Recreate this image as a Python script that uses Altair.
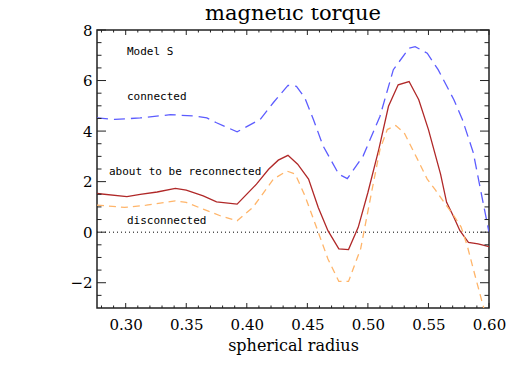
import altair as alt
import pandas as pd

# ---- data ----
conn_x = [0.2763, 0.291, 0.312, 0.337, 0.356, 0.367, 0.375, 0.392, 0.411, 0.422, 0.434, 0.441,
          0.448, 0.455, 0.463, 0.476, 0.483, 0.496, 0.510, 0.521, 0.534, 0.539, 0.549, 0.558,
          0.571, 0.578, 0.587, 0.595, 0.600]
conn_y = [4.52, 4.46, 4.52, 4.65, 4.60, 4.52, 4.33, 3.97, 4.46, 5.13, 5.81, 5.77,
          5.31, 4.46, 3.41, 2.29, 2.12, 3.01, 4.59, 6.43, 7.28, 7.34, 7.08, 6.43,
          5.24, 4.46, 3.15, 1.20, 0.00]

recon_x = [0.2763, 0.301, 0.312, 0.326, 0.341, 0.350, 0.364, 0.375, 0.392, 0.408, 0.418, 0.426,
           0.434, 0.442, 0.451, 0.459, 0.467, 0.476, 0.484, 0.492, 0.500, 0.509, 0.517, 0.525,
           0.534, 0.542, 0.550, 0.560, 0.565, 0.571, 0.576, 0.583, 0.591, 0.600]
recon_y = [1.53, 1.41, 1.50, 1.59, 1.73, 1.66, 1.44, 1.20, 1.11, 1.90, 2.49, 2.85,
           3.04, 2.69, 2.10, 0.98, 0.06, -0.66, -0.69, 0.19, 1.57, 3.28, 4.98, 5.83,
           5.96, 5.24, 4.06, 2.30, 1.18, 0.59, 0.06, -0.40, -0.46, -0.57]

disc_x = [0.2763, 0.299, 0.317, 0.341, 0.350, 0.364, 0.378, 0.392, 0.405, 0.422, 0.433, 0.440,
          0.448, 0.458, 0.467, 0.476, 0.484, 0.494, 0.503, 0.510, 0.516, 0.523, 0.530, 0.541,
          0.549, 0.556, 0.564, 0.571, 0.577, 0.582, 0.587, 0.595, 0.600]
disc_y = [1.07, 0.98, 1.07, 1.24, 1.18, 0.91, 0.65, 0.45, 0.98, 2.10, 2.42, 2.30,
          1.44, 0.13, -1.06, -1.95, -1.95, -0.66, 1.57, 3.28, 4.06, 4.22, 3.93, 2.88,
          2.10, 1.65, 1.11, 0.65, 0.20, -0.53, -1.45, -2.89, -3.70]

x_major = [0.30, 0.35, 0.40, 0.45, 0.50, 0.55, 0.60]
x_minor = [0.28, 0.29, 0.31, 0.32, 0.33, 0.34, 0.36, 0.37, 0.38, 0.39, 0.41, 0.42, 0.43, 0.44,
           0.46, 0.47, 0.48, 0.49, 0.51, 0.52, 0.53, 0.54, 0.56, 0.57, 0.58, 0.59]
y_major = [-2, 0, 2, 4, 6, 8]
y_minor = [-2.5, -1.5, -1, -0.5, 0.5, 1, 1.5, 2.5, 3, 3.5, 4.5, 5, 5.5, 6.5, 7, 7.5]

labels_text = ["Model S", "connected", "about to be reconnected", "disconnected"]
labels_x = [0.301, 0.301, 0.2862, 0.301]
labels_y = [7.13, 5.36, 2.37, 0.44]

title_text = "magnetic torque"
x_title = "spherical radius"

X_DOMAIN = [0.2763, 0.600]
Y_DOMAIN = [-3, 8]
W, H = 392, 278

xs = alt.Scale(domain=X_DOMAIN, nice=False, zero=False)
ys = alt.Scale(domain=Y_DOMAIN, nice=False, zero=False)
SERIF = "DejaVu Serif"

x_axis = alt.Axis(values=x_major, format=".2f", ticks=False, domain=False, grid=False,
                  labelFlush=False, labelOverlap=False,
                  labelFont=SERIF, labelFontSize=15, labelColor="black", labelPadding=9,
                  title=x_title, titleFont=SERIF, titleFontSize=16,
                  titleFontWeight="normal", titleColor="black", titlePadding=5)
y_axis = alt.Axis(values=y_major, format="d", ticks=False, domain=False, grid=False,
                  labelFlush=False, labelOverlap=False,
                  labelFont=SERIF, labelFontSize=15, labelColor="black", labelPadding=5,
                  title=None)

X = lambda: alt.X("x:Q", scale=xs, axis=x_axis)
Y = lambda: alt.Y("y:Q", scale=ys, axis=y_axis)


def line(xv, yv, color, dash):
    df = pd.DataFrame({"x": xv, "y": yv})
    kw = {"stroke": color, "strokeWidth": 1.3, "clip": True}
    if dash:
        kw["strokeDash"] = dash
    return alt.Chart(df).mark_line(**kw).encode(x=X(), y=Y())


conn = line(conn_x, conn_y, "#5c5cff", [11, 6])
recon = line(recon_x, recon_y, "#b02828", None)
disc = line(disc_x, disc_y, "#ffb56a", [7, 5])

zero_line = alt.Chart(pd.DataFrame({"y": [0]})).mark_rule(
    color="black", strokeDash=[1, 3], strokeWidth=1
).encode(y=Y(), x=alt.value(0), x2=alt.value(W))


def xticks(vals, length):
    df = pd.DataFrame({"x": vals})
    base = alt.Chart(df).mark_rule(color="#222", strokeWidth=1)
    bottom = base.encode(x=X(), y=alt.value(H), y2=alt.value(H - length))
    top = base.encode(x=X(), y=alt.value(0), y2=alt.value(length))
    return bottom + top


def yticks(vals, length):
    df = pd.DataFrame({"y": vals})
    base = alt.Chart(df).mark_rule(color="#222", strokeWidth=1)
    left = base.encode(y=Y(), x=alt.value(0), x2=alt.value(length))
    right = base.encode(y=Y(), x=alt.value(W), x2=alt.value(W - length))
    return left + right


lab_df = pd.DataFrame({"x": labels_x, "y": labels_y, "t": labels_text})
labels = alt.Chart(lab_df).mark_text(
    align="left", baseline="middle", font="DejaVu Sans Mono", fontSize=11, color="black"
).encode(x=X(), y=Y(), text="t:N")

title = alt.Chart(pd.DataFrame({"t": [title_text]})).mark_text(
    align="center", baseline="alphabetic", font=SERIF, fontSize=21, color="black"
).encode(x=alt.value(W / 2), y=alt.value(-10), text="t:N")

chart = alt.layer(
    conn, zero_line, recon, disc,
    xticks(x_major, 5), xticks(x_minor, 2.5),
    yticks(y_major, 9), yticks(y_minor, 4.5),
    labels, title,
).properties(
    width=W, height=H,
    autosize=alt.AutoSizeParams(type="none"),
    padding={"left": 89, "top": 22, "right": 21, "bottom": 54},
).configure_view(stroke="#222", strokeWidth=1.5)

chart.save("out.html", embed_options={"renderer": "svg", "actions": False})
